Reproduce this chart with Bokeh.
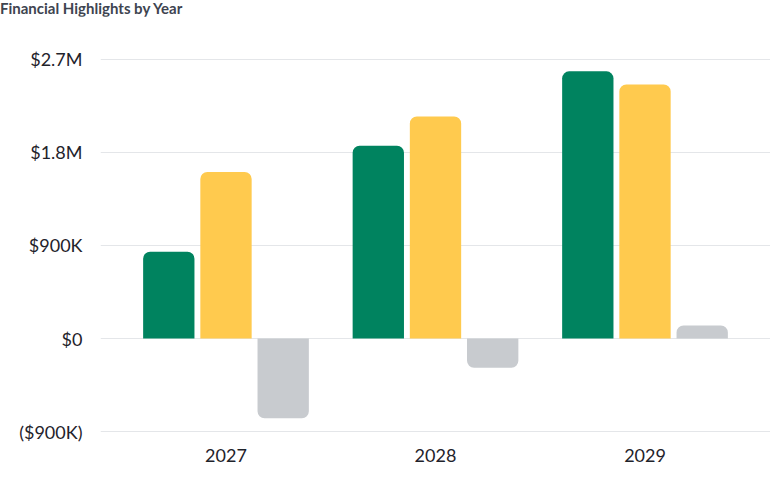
from bokeh.plotting import figure
from bokeh.models import ColumnDataSource, FactorRange, FixedTicker, Range1d, Div
from bokeh.layouts import column
from bokeh.transform import dodge
from bokeh.embed import file_html
from bokeh.resources import INLINE

years = ["2027", "2028", "2029"]
revenue = [840000, 1865000, 2585000]
expenses = [1612000, 2148000, 2458000]
net = [-772000, -283000, 127000]

y_ticks = [-900000, 0, 900000, 1800000, 2700000]
y_labels = ["($900K)", "$0", "$900K", "$1.8M", "$2.7M"]

GREEN = "#00835F"
YELLOW = "#FFCA4E"
GRAY = "#C8CBCF"
TEXT = "#1F232B"
FONT = "Lato"

W, H = 770, 477
TITLE_H = 16
TOP, BOTTOM, LEFT = 48 - TITLE_H, 41, 100

src = ColumnDataSource(data=dict(year=years, revenue=revenue, expenses=expenses))
# net income bars: positive ones round at top, negative ones round at bottom
net_pos = ColumnDataSource(data=dict(year=[y for y, v in zip(years, net) if v >= 0],
                                     val=[v for v in net if v >= 0]))
net_neg = ColumnDataSource(data=dict(year=[y for y, v in zip(years, net) if v < 0],
                                     val=[v for v in net if v < 0]))

# title as a plain text block above the chart, flush with the left edge
title = Div(text="Financial Highlights by Year", width=W, height=TITLE_H,
            margin=(0, 0, 0, 0),
            styles={"font-family": FONT, "font-size": "15px", "font-weight": "bold",
                    "color": "#3E4450", "line-height": "16px", "padding": "0"})

p = figure(width=W, height=H - TITLE_H, output_backend="svg", toolbar_location=None,
           x_range=FactorRange(factors=years, range_padding=0.066),
           y_range=Range1d(-948000, 2806000))
p.margin = (0, 0, 0, 0)
p.min_border_left = LEFT
p.min_border_right = 0
p.min_border_top = TOP
p.min_border_bottom = BOTTOM
p.outline_line_color = None
p.background_fill_color = "white"
p.border_fill_color = "white"

w = 0.245
r = 7
p.vbar(x=dodge("year", -0.273, range=p.x_range), top="revenue", bottom=0, width=w,
       source=src, fill_color=GREEN, line_color=None, border_radius=(r, r, 0, 0))
p.vbar(x=dodge("year", 0.0, range=p.x_range), top="expenses", bottom=0, width=w,
       source=src, fill_color=YELLOW, line_color=None, border_radius=(r, r, 0, 0))
p.vbar(x=dodge("year", 0.273, range=p.x_range), top="val", bottom=0, width=w,
       source=net_pos, fill_color=GRAY, line_color=None, border_radius=(r, r, 0, 0))
p.vbar(x=dodge("year", 0.273, range=p.x_range), top=0, bottom="val", width=w,
       source=net_neg, fill_color=GRAY, line_color=None, border_radius=(0, 0, r, r))

p.xgrid.grid_line_color = None
p.ygrid.grid_line_color = "#E4E6E9"
p.ygrid.grid_line_width = 1
p.yaxis.ticker = FixedTicker(ticks=y_ticks)
p.yaxis.major_label_overrides = {t: l for t, l in zip(y_ticks, y_labels)}

for ax in [p.xaxis[0], p.yaxis[0]]:
    ax.axis_line_color = None
    ax.major_tick_line_color = None
    ax.minor_tick_line_color = None
    ax.major_label_text_font = FONT
    ax.major_label_text_font_size = "18px"
    ax.major_label_text_color = TEXT
p.yaxis.major_label_standoff = 12
p.xaxis.major_label_standoff = 6

layout = column(title, p, spacing=0)
open("out.html", "w").write(file_html(layout, INLINE))
